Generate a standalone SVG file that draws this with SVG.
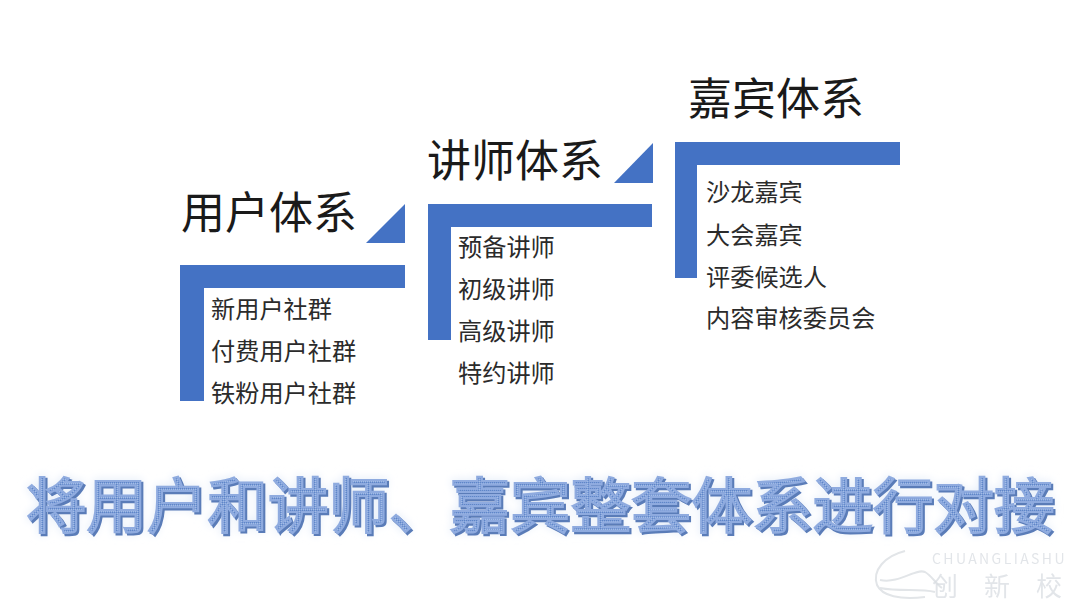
<svg xmlns="http://www.w3.org/2000/svg" width="1080" height="608" viewBox="0 0 1080 608">
<style>
text{font-family:"Noto Sans CJK SC","Noto Sans CJK JP",sans-serif}
.h{font-size:44px;fill:#1a1a1a}
.i{font-size:24.2px;fill:#2b2b2b}
.b{fill:#4472c4}
.t{font-size:60.5px}
.w{font-size:20px;fill:#d9dde2;opacity:.75}
</style>
<defs>
<pattern id="dots" width="2" height="2" patternUnits="userSpaceOnUse">
<rect width="2" height="2" fill="#7f9fd8"/><rect width="1" height="1" fill="#5f86c8"/><rect x="1" y="1" width="1" height="1" fill="#a3bde6"/>
</pattern>
<filter id="soft" x="-5%" y="-20%" width="110%" height="140%"><feGaussianBlur stdDeviation="4"/></filter>
</defs>
<rect width="1080" height="608" fill="#fff"/>
<g id="user">
<path class="b" d="M180 265H405V288H204V401H180Z"/>
<path class="b" d="M366 243H405V204Z"/>
<text class="h" x="181" y="229">用户体系</text>
<text class="i" x="211" y="318">新用户社群</text>
<text class="i" x="211" y="360">付费用户社群</text>
<text class="i" x="211" y="402">铁粉用户社群</text>
</g>
<g id="lecturer">
<path class="b" d="M428 204H652V227H451V340H428Z"/>
<path class="b" d="M614 183H653V143Z"/>
<text class="h" x="427" y="177">讲师体系</text>
<text class="i" x="458" y="256">预备讲师</text>
<text class="i" x="458" y="298">初级讲师</text>
<text class="i" x="458" y="340">高级讲师</text>
<text class="i" x="458" y="382">特约讲师</text>
</g>
<g id="guest">
<path class="b" d="M675 142H900V165H697V278H675Z"/>
<text class="h" x="688" y="115">嘉宾体系</text>
<text class="i" x="706" y="201">沙龙嘉宾</text>
<text class="i" x="706" y="244">大会嘉宾</text>
<text class="i" x="706" y="286">评委候选人</text>
<text class="i" x="706" y="327">内容审核委员会</text>
</g>
<g id="title">
<text class="t" x="26" y="528" fill="#e6eef9" stroke="#e6eef9" stroke-width="4" filter="url(#soft)">将用户和讲师、嘉宾整套体系进行对接</text>
<text class="t" x="28" y="530" fill="#5a7cb8" stroke="#5a7cb8" stroke-width="2.4">将用户和讲师、嘉宾整套体系进行对接</text>
<text class="t" x="26" y="528" fill="url(#dots)" stroke="#8fabdf" stroke-width="2.2">将用户和讲师、嘉宾整套体系进行对接</text>
</g>
<g id="watermark">
<path d="M905 551C885 556 872 570 877 585C882 596 900 600 925 597M880 580C900 584 915 568 925 572C932 576 936 584 942 588M880 588C900 592 920 588 935 592" fill="none" stroke="#e2e5e8" stroke-width="2"/>
<text class="w" x="932" y="564" style="font-size:14px;letter-spacing:2.4px">CHUANGLIASHU</text>
<text class="w" x="932" y="596" style="font-size:26px">创</text>
<text class="w" x="984" y="596" style="font-size:26px">新</text>
<text class="w" x="1036" y="596" style="font-size:26px">校</text>
</g>
</svg>
